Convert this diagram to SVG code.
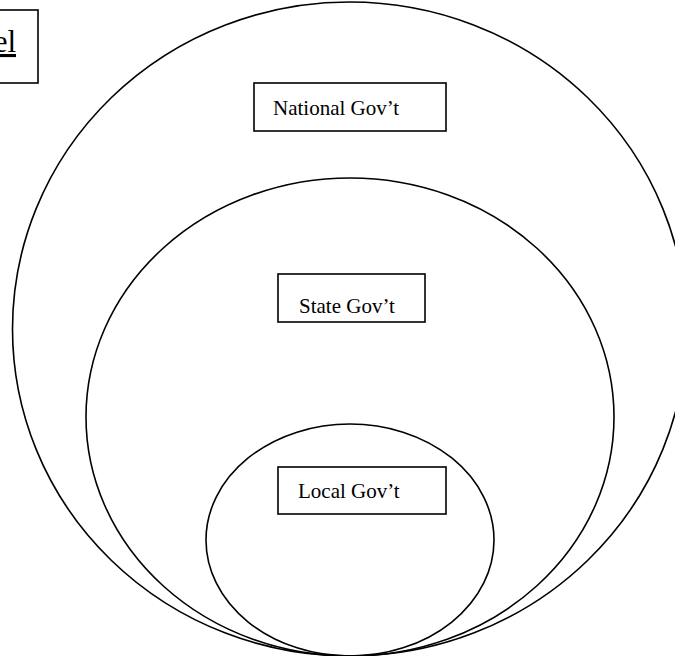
<svg xmlns="http://www.w3.org/2000/svg" width="675" height="656" viewBox="0 0 675 656">
<style>
.c{fill:none;stroke:#000;stroke-width:1.6}
.b{fill:#fff;stroke:#000;stroke-width:1.6}
.t{font-family:"Liberation Serif","Times New Roman",serif;font-size:21px;fill:#000}
</style>
<rect width="675" height="656" fill="#fff"/>
<g id="outer"><ellipse class="c" cx="349.5" cy="329" rx="337" ry="327"/></g>
<g id="middle"><ellipse class="c" cx="350" cy="417" rx="264" ry="239"/></g>
<g id="inner"><ellipse class="c" cx="350" cy="540" rx="144" ry="116"/></g>
<g id="title"><rect class="b" x="-10" y="10" width="48" height="73"/><text class="t" x="16" y="52" text-anchor="end" style="font-size:31px" text-decoration="underline">el</text></g>
<g id="national"><rect class="b" x="254" y="83" width="192" height="48"/><text class="t" x="273" y="115">National Gov’t</text></g>
<g id="state"><rect class="b" x="278" y="274" width="147" height="48"/><text class="t" x="299" y="313">State Gov’t</text></g>
<g id="local"><rect class="b" x="278" y="467" width="168" height="47"/><text class="t" x="298" y="498">Local Gov’t</text></g>
<g id="connectors"></g>
</svg>
